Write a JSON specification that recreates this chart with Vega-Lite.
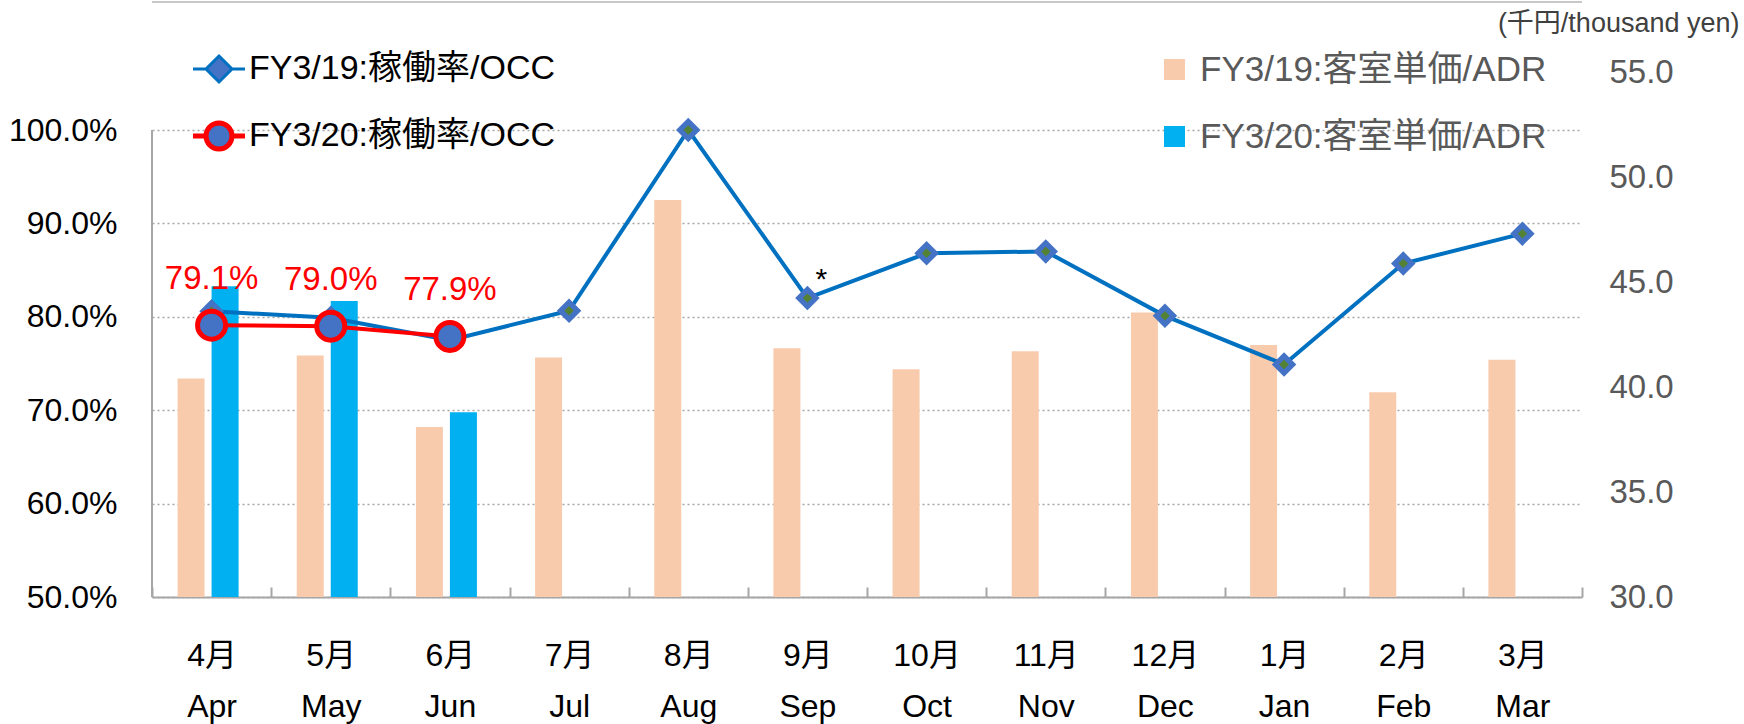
{
  "$schema": "https://vega.github.io/schema/vega-lite/v6.json",
  "width": 1430,
  "height": 525,
  "autosize": {"type": "none"},
  "padding": {"left": 152, "top": 72, "right": 162, "bottom": 127},
  "background": "white",
  "config": {"font": "Liberation Sans, Noto Sans CJK JP", "view": {"stroke": null}},
  "data": {"values": [
    {"m": "4月|Apr", "fy": "FY3/19", "occ": 0.806, "adr": 40.4},
    {"m": "5月|May", "fy": "FY3/19", "occ": 0.799, "adr": 41.5},
    {"m": "6月|Jun", "fy": "FY3/19", "occ": 0.775, "adr": 38.1},
    {"m": "7月|Jul", "fy": "FY3/19", "occ": 0.8065, "adr": 41.4},
    {"m": "8月|Aug", "fy": "FY3/19", "occ": 1.0, "adr": 48.9},
    {"m": "9月|Sep", "fy": "FY3/19", "occ": 0.82, "adr": 41.85, "note": "*"},
    {"m": "10月|Oct", "fy": "FY3/19", "occ": 0.868, "adr": 40.85},
    {"m": "11月|Nov", "fy": "FY3/19", "occ": 0.87, "adr": 41.7},
    {"m": "12月|Dec", "fy": "FY3/19", "occ": 0.801, "adr": 43.55},
    {"m": "1月|Jan", "fy": "FY3/19", "occ": 0.749, "adr": 42.0},
    {"m": "2月|Feb", "fy": "FY3/19", "occ": 0.857, "adr": 39.75},
    {"m": "3月|Mar", "fy": "FY3/19", "occ": 0.889, "adr": 41.3},
    {"m": "4月|Apr", "fy": "FY3/20", "occ": 0.791, "adr": 44.8},
    {"m": "5月|May", "fy": "FY3/20", "occ": 0.79, "adr": 44.1},
    {"m": "6月|Jun", "fy": "FY3/20", "occ": 0.779, "adr": 38.8}
  ]},
  "encoding": {
    "x": {
      "field": "m", "type": "nominal",
      "scale": {"domain": ["4月|Apr", "5月|May", "6月|Jun", "7月|Jul", "8月|Aug", "9月|Sep", "10月|Oct", "11月|Nov", "12月|Dec", "1月|Jan", "2月|Feb", "3月|Mar"], "paddingInner": 0, "paddingOuter": 0},
      "axis": {"title": null, "labelAngle": 0, "labelExpr": "split(datum.label, '|')", "labelFontSize": 32, "labelColor": "black", "labelLineHeight": 51, "labelBaseline": "top", "labelPadding": 53, "labelOverlap": false, "tickBand": "extent", "tickSize": -10, "tickColor": "#A6A6A6", "tickWidth": 2, "domainColor": "#A6A6A6", "domainWidth": 2, "grid": false}
    }
  },
  "layer": [
    {
      "encoding": {
        "y": {"field": "adr", "type": "quantitative", "scale": {"domain": [30, 55], "nice": false, "zero": false},
          "axis": {"orient": "right", "title": "(千円/thousand yen)", "titleAngle": 0, "titleX": 157, "titleY": -49, "titleAlign": "right", "titleBaseline": "middle", "titleFontSize": 27, "titleFontWeight": "normal", "titleColor": "#404040", "values": [30, 35, 40, 45, 50, 55], "format": ".1f", "labelFontSize": 33, "labelColor": "#595959", "labelPadding": 27, "domain": false, "ticks": false, "grid": false}},
        "y2": {"datum": 30}
      },
      "layer": [
        {
          "transform": [{"filter": "datum.fy == 'FY3/19'"}],
          "mark": {"type": "bar", "width": 27, "xOffset": -20.5},
          "encoding": {
            "fill": {"datum": "FY3/19:客室単価/ADR", "scale": {"domain": ["FY3/19:客室単価/ADR", "FY3/20:客室単価/ADR"], "range": ["#F8CBAD", "#00B0F0"]},
              "legend": {"orient": "none", "legendX": 1005, "legendY": -20, "title": null, "padding": 0, "symbolType": "square", "symbolSize": 441, "symbolStrokeWidth": 0, "labelFontSize": 35, "labelColor": "#595959", "labelOffset": 8, "rowPadding": 31, "labelLimit": 600}}
          }
        },
        {
          "transform": [{"filter": "datum.fy == 'FY3/20'"}],
          "mark": {"type": "bar", "width": 27, "xOffset": 13.5},
          "encoding": {"fill": {"datum": "FY3/20:客室単価/ADR"}}
        }
      ]
    },
    {
      "encoding": {
        "y": {"field": "occ", "type": "quantitative", "scale": {"domain": [0.5, 1.0621], "nice": false, "zero": false},
          "axis": {"orient": "left", "title": null, "values": [0.5, 0.6, 0.7, 0.8, 0.9, 1.0], "format": ".1%", "labelFontSize": 32, "labelColor": "black", "labelPadding": 35, "domain": false, "ticks": false, "grid": true, "gridDash": [2, 3], "gridColor": "#A6A6A6", "gridWidth": 1.5}}
      },
      "layer": [
        {
          "transform": [{"filter": "datum.fy == 'FY3/19'"}],
          "mark": {"type": "line", "strokeWidth": 4},
          "encoding": {
            "stroke": {"datum": "FY3/19:稼働率/OCC", "scale": {"domain": ["FY3/19:稼働率/OCC", "FY3/20:稼働率/OCC"], "range": ["#0070C0", "#FF0000"]},
              "legend": {"orient": "none", "legendX": 50, "legendY": -20, "title": null, "padding": 0, "symbolType": "M-1,0H1M0,-0.5L0.5,0L0,0.5L-0.5,0Z", "symbolSize": 2704, "symbolStrokeWidth": 4, "labelFontSize": 34, "labelColor": "black", "labelOffset": 13, "rowPadding": 25, "labelLimit": 600,
                "encode": {"symbols": {"update": {
                  "shape": {"signal": "datum.value == 'FY3/19:稼働率/OCC' ? 'M-1,0H-0.45M0.45,0H1M0,-0.5L0.5,0L0,0.5L-0.5,0Z' : 'M-1,0H-0.5M0.5,0H1M-0.5,0A0.5,0.5,0,1,1,0.5,0A0.5,0.5,0,1,1,-0.5,0Z'"},
                  "fill": {"value": "#4472C4"},
                  "fillOpacity": {"value": 1},
                  "strokeWidth": {"signal": "datum.value == 'FY3/19:稼働率/OCC' ? 3 : 5"}
                }}}}}
          }
        },
        {
          "transform": [{"filter": "datum.fy == 'FY3/19'"}],
          "mark": {"type": "point", "shape": "diamond", "filled": true, "size": 600, "color": "#4472C4", "opacity": 1}
        },
        {
          "transform": [{"filter": "datum.fy == 'FY3/19'"}],
          "mark": {"type": "point", "shape": "diamond", "filled": true, "size": 90, "color": "#548235", "opacity": 1}
        },
        {
          "transform": [{"filter": "datum.fy == 'FY3/20'"}],
          "mark": {"type": "line", "strokeWidth": 4},
          "encoding": {"stroke": {"datum": "FY3/20:稼働率/OCC"}}
        },
        {
          "transform": [{"filter": "datum.fy == 'FY3/20'"}],
          "mark": {"type": "point", "shape": "circle", "filled": false, "size": 784, "fill": "#4472C4", "stroke": "#FF0000", "strokeWidth": 5, "opacity": 1, "fillOpacity": 1}
        },
        {
          "transform": [{"filter": "datum.fy == 'FY3/20'"}],
          "mark": {"type": "text", "dy": -46, "fontSize": 33, "color": "#FF0000"},
          "encoding": {"text": {"field": "occ", "type": "quantitative", "format": ".1%"}}
        },
        {
          "transform": [{"filter": "isValid(datum.note)"}],
          "mark": {"type": "text", "dx": 14, "dy": -18, "fontSize": 30, "color": "black"},
          "encoding": {"text": {"field": "note"}}
        },
        {
          "transform": [{"filter": "datum.m == '4月|Apr' && datum.fy == 'FY3/19'"}],
          "mark": {"type": "rule", "color": "#A6A6A6", "strokeWidth": 2},
          "encoding": {"x": {"datum": "4月|Apr", "bandPosition": 0}, "y": {"datum": 0.5}, "y2": {"datum": 1.0}}
        },
        {
          "transform": [{"filter": "datum.m == '4月|Apr' && datum.fy == 'FY3/19'"}],
          "mark": {"type": "rule", "color": "#C8C8C8", "strokeWidth": 2},
          "encoding": {"x": {"datum": "4月|Apr", "bandPosition": 0}, "x2": {"datum": "3月|Mar", "bandPosition": 1}, "y": {"datum": 1.137}}
        }
      ]
    }
  ],
  "resolve": {"scale": {"y": "independent"}}
}
